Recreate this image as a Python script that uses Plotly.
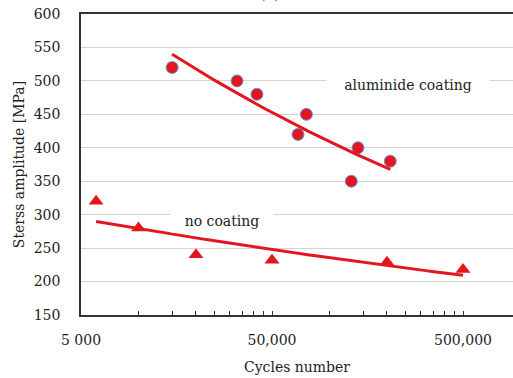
import numpy as np
import plotly.graph_objects as go

# Data
coated_cycles = [15000, 32800, 41700, 68400, 75700, 130000, 141000, 208000]
coated_stress = [520, 500, 480, 420, 450, 350, 400, 380]

uncoated_cycles = [6000, 10000, 20000, 50000, 200000, 500000]
uncoated_stress = [320, 280, 240, 232, 229, 218]

tick_major = [5000, 50000, 500000]
tick_major_text = ["5 000", "50,000", "500,000"]

RED = "#e3161e"
BLUE = "#5b9be6"
FONT = "DejaVu Serif"


def power_fit(x, y, n=60):
    x = np.asarray(x, float)
    y = np.asarray(y, float)
    b, a = np.polyfit(np.log(x), np.log(y), 1)
    xs = np.logspace(np.log10(x.min()), np.log10(x.max()), n)
    return xs, np.exp(a) * xs ** b


# tick positions (log minor ticks)
tickvals, ticktext = [], []
for base in tick_major:
    for k in range(1, 10):
        v = base * k
        if v > 950000:
            break
        tickvals.append(v)
        ticktext.append(tick_major_text[tick_major.index(base)] if k == 1 else "")

fig = go.Figure()

cx, cy = power_fit(coated_cycles, coated_stress)
ux, uy = power_fit(uncoated_cycles, uncoated_stress)

fig.add_trace(go.Scatter(x=coated_cycles, y=coated_stress, mode="markers",
                         marker=dict(symbol="circle", size=12, color=RED,
                                     line=dict(color=BLUE, width=1)),
                         showlegend=False))
fig.add_trace(go.Scatter(x=uncoated_cycles, y=uncoated_stress, mode="markers",
                         marker=dict(symbol="triangle-up", size=13, color=RED,
                                     line=dict(width=0)),
                         showlegend=False))
fig.add_trace(go.Scatter(x=cx, y=cy, mode="lines",
                         line=dict(color=RED, width=3), showlegend=False))
fig.add_trace(go.Scatter(x=ux, y=uy, mode="lines",
                         line=dict(color=RED, width=3), showlegend=False))

x0 = np.log10(5000)
fig.update_layout(
    width=513, height=378,
    margin=dict(l=81, r=0, t=14, b=63),
    paper_bgcolor="white", plot_bgcolor="white",
    font=dict(family=FONT, size=14, color="#222222"),
    xaxis=dict(
        type="log", range=[x0, x0 + 432 / 191],
        tickvals=tickvals, ticktext=ticktext,
        ticks="inside", ticklen=4, tickcolor="#333333",
        showgrid=False, showline=True, linecolor="#333333", linewidth=1.5,
        mirror=True, zeroline=False,
        ticklabelstandoff=11,
        title=dict(text="Cycles number", font=dict(size=14), standoff=16),
    ),
    yaxis=dict(
        range=[150, 600], dtick=50,
        showgrid=True, gridcolor="#d4d4d4", gridwidth=1,
        showline=True, linecolor="#333333", linewidth=1.5,
        ticks="", zeroline=False, ticklabelstandoff=16,
        title=dict(text="Sterss amplitude [MPa]", font=dict(size=14), standoff=6),
    ),
    annotations=[
        dict(text="aluminide coating", xref="x", yref="y",
             x=x0 + (408 - 81) / 191, y=494, showarrow=False,
             bgcolor="white", width=160, height=20,
             font=dict(size=14, family=FONT, color="#222222")),
        dict(text="no coating", xref="x", yref="y",
             x=x0 + (222 - 81) / 191, y=291, showarrow=False,
             bgcolor="white", width=100, height=20,
             font=dict(size=14, family=FONT, color="#222222")),
        dict(text="(b)", xref="paper", yref="paper", x=(270 - 81) / 432, y=1,
             yanchor="bottom", yshift=10, showarrow=False,
             font=dict(size=14, family=FONT, color="#222222")),
    ],
)

fig.write_html("out.html")
